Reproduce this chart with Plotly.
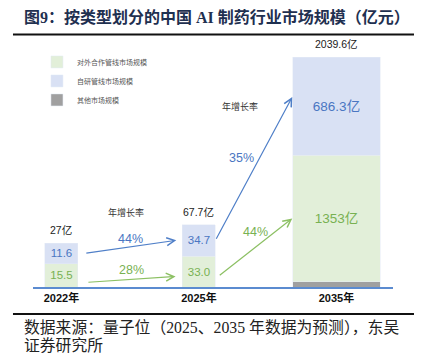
import plotly.graph_objects as go

# ---------------- data ----------------
years = ["2022年", "2025年", "2035年"]
external = [15.5, 33.0, 1353.0]      # 对外合作管线市场规模
inhouse = [11.6, 34.7, 686.3]        # 自研管线市场规模
other = [0.0, 0.0, 0.3]              # 其他市场规模
external_labels = ["15.5", "33.0", "1353亿"]
inhouse_labels = ["11.6", "34.7", "686.3亿"]
total_labels = ["27亿", "67.7亿", "2039.6亿"]
growth_inhouse = ["44%", "35%"]
growth_external = ["28%", "44%"]
growth_title = "年增长率"
series_names = ["对外合作管线市场规模", "自研管线市场规模", "其他市场规模"]

# ---------------- styling ----------------
GREEN_FILL = "#E2EFD9"
BLUE_FILL = "#D9E1F4"
GREY_FILL = "#A0A0A0"
GREEN_TXT = "#78B152"
BLUE_TXT = "#4A76C2"
GREEN_ARROW = "#8CC063"
BLUE_ARROW = "#4F7FC8"
AXIS_BLUE = "#5B8BD0"
SANS = "Liberation Sans, Noto Sans CJK SC, sans-serif"
SERIF = "Liberation Serif, Noto Sans CJK SC, serif"

# the original chart is drawn on a compressed (non-linear) scale
P = 0.38
def f(v):
    return v ** P

g = [f(v) for v in other]
e = [f(v) for v in external]
b = [f(v) for v in inhouse]
ext_mid = [g[i] + e[i] / 2 for i in range(3)]
in_mid = [g[i] + e[i] + b[i] / 2 for i in range(3)]
tops = [g[i] + e[i] + b[i] for i in range(3)]

W = [0.24, 0.24, 0.633]

fig = go.Figure()
fig.add_trace(go.Bar(x=years, y=g, name=series_names[2], marker_color=GREY_FILL,
                     width=W, legendrank=3, hoverinfo="skip"))
fig.add_trace(go.Bar(x=years, y=e, name=series_names[0], marker_color=GREEN_FILL,
                     width=W, legendrank=1, text=external_labels,
                     textposition="inside", insidetextanchor="middle", textangle=0,
                     constraintext="none",
                     textfont=dict(family=SANS, color=GREEN_TXT, size=[11.5, 11.5, 13.5]),
                     hoverinfo="skip"))
fig.add_trace(go.Bar(x=years, y=b, name=series_names[1], marker_color=BLUE_FILL,
                     width=W, legendrank=2, text=inhouse_labels,
                     textposition="inside", insidetextanchor="middle", textangle=0,
                     constraintext="none",
                     textfont=dict(family=SANS, color=BLUE_TXT, size=[11.5, 11.5, 13.5]),
                     hoverinfo="skip"))

ann = []
# totals above bars
for i in range(3):
    ann.append(dict(x=i, y=tops[i], xref="x", yref="y", text=total_labels[i],
                    showarrow=False, yanchor="bottom", yshift=5,
                    font=dict(family=SANS, size=10.5, color="#222222")))

def arrow(x0, y0, x1, y1, color):
    return dict(x=x1, y=y1, ax=x0, ay=y0, xref="x", yref="y", axref="x", ayref="y",
                text="", showarrow=True, arrowhead=5, arrowsize=1.3, arrowwidth=1.2,
                arrowcolor=color, standoff=0, startstandoff=0)

# 2022 -> 2025
bx0, by0 = 0 + W[0] / 2 + 0.05, in_mid[0]
bx1, by1 = 1 - W[1] / 2 - 0.045, in_mid[1]
gx0, gy0 = 0 + W[0] / 2 + 0.065, ext_mid[0] - 0.85
gx1, gy1 = 1 - W[1] / 2 - 0.05, ext_mid[1] - 0.6
ann.append(arrow(bx0, by0, bx1, by1, BLUE_ARROW))
ann.append(arrow(gx0, gy0, gx1, gy1, GREEN_ARROW))
ann.append(dict(x=(bx0 + bx1) / 2, y=(by0 + by1) / 2, xref="x", yref="y",
                text=growth_inhouse[0], showarrow=False, yshift=8,
                font=dict(family=SANS, size=12.5, color=BLUE_TXT)))
ann.append(dict(x=(gx0 + gx1) / 2, y=(gy0 + gy1) / 2, xref="x", yref="y",
                text=growth_external[0], showarrow=False, yshift=9,
                font=dict(family=SANS, size=12.5, color=GREEN_TXT)))
ann.append(dict(x=0.47, y=tops[1], xref="x", yref="y", text=growth_title,
                showarrow=False, yanchor="bottom", yshift=5,
                font=dict(family=SANS, size=9, color="#333333")))

# 2025 -> 2035
cx0, cy0 = 1 + W[1] / 2, in_mid[1]
cx1, cy1 = 2 - W[2] / 2 - 0.005, in_mid[2] + 1.1
hx0, hy0 = 1 + W[1] / 2 + 0.02, ext_mid[1] - 0.6
hx1, hy1 = 2 - W[2] / 2 - 0.005, ext_mid[2]
ann.append(arrow(cx0, cy0, cx1, cy1, BLUE_ARROW))
ann.append(arrow(hx0, hy0, hx1, hy1, GREEN_ARROW))
ann.append(dict(x=(cx0 + cx1) / 2, y=(cy0 + cy1) / 2, xref="x", yref="y",
                text=growth_inhouse[1], showarrow=False, xshift=-12, yshift=11,
                font=dict(family=SANS, size=12.5, color=BLUE_TXT)))
ann.append(dict(x=(hx0 + hx1) / 2, y=(hy0 + hy1) / 2, xref="x", yref="y",
                text=growth_external[1], showarrow=False, yshift=15,
                font=dict(family=SANS, size=12.5, color=GREEN_TXT)))
ann.append(dict(x=1.3, y=in_mid[2], xref="x", yref="y", text=growth_title,
                showarrow=False,
                font=dict(family=SANS, size=9, color="#333333")))

# title and source
ann.append(dict(x=-0.031, y=1.093, xref="paper", yref="paper", xanchor="left",
                yanchor="middle", showarrow=False,
                text="<b>图9：按类型划分的中国 AI 制药行业市场规模（亿元）</b>",
                font=dict(family=SERIF, size=16, color="#1F3050")))
ann.append(dict(x=-0.031, y=-0.162, xref="paper", yref="paper", xanchor="left",
                yanchor="middle", showarrow=False,
                text="数据来源：量子位（2025、2035 年数据为预测），东吴",
                font=dict(family=SERIF, size=15.8, color="#222222")))
ann.append(dict(x=-0.031, y=-0.236, xref="paper", yref="paper", xanchor="left",
                yanchor="middle", showarrow=False, text="证券研究所",
                font=dict(family=SERIF, size=15.8, color="#222222")))

shapes = [
    dict(type="line", xref="paper", yref="paper", x0=-0.0556, x1=1.0583,
         y0=1.0223, y1=1.0223, line=dict(color="#111111", width=2)),
    dict(type="line", xref="paper", yref="paper", x0=-0.0556, x1=1.0583,
         y0=-0.1093, y1=-0.1093, line=dict(color="#111111", width=2)),
]

fig.update_layout(
    width=434, height=354, autosize=False,
    margin=dict(l=33, r=41, t=40, b=67),
    barmode="stack",
    paper_bgcolor="white", plot_bgcolor="white",
    showlegend=True,
    legend=dict(x=0.011, y=0.97, xanchor="left", yanchor="top",
                font=dict(family=SANS, size=7, color="#555555"),
                traceorder="normal", bgcolor="rgba(0,0,0,0)", itemwidth=30),
    xaxis=dict(type="category", range=[-0.207, 2.411], showline=True,
               linecolor=AXIS_BLUE, linewidth=1.5, ticks="", showgrid=False,
               zeroline=False, fixedrange=True,
               tickfont=dict(family=SANS, size=11, color="#111111", weight="bold")),
    yaxis=dict(range=[0, 30.16], visible=False, fixedrange=True),
    annotations=ann,
    shapes=shapes,
)

fig.write_html("out.html")
